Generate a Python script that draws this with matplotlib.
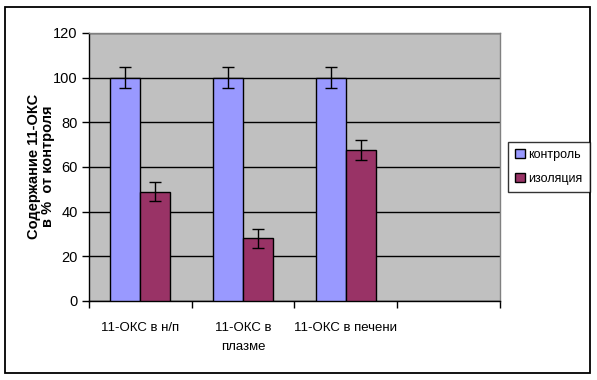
import matplotlib
matplotlib.use("Agg")
import matplotlib.pyplot as plt
import numpy as np
from matplotlib.patches import Rectangle

plt.rcParams['font.family'] = ['Liberation Sans', 'DejaVu Sans']

categories = ['11-ОКС в н/п', '11-ОКС в\nплазме', '11-ОКС в печени', '']
control = [100, 100, 100]
control_err = [4.7, 4.7, 4.7]
isolation = [49, 28, 67.5]
isolation_err = [4.3, 4.3, 4.5]
series_names = ['контроль', 'изоляция']
yticks = [0, 20, 40, 60, 80, 100, 120]

fig = plt.figure(figsize=(5.97, 3.8), dpi=100)
fig.patches.append(Rectangle((5/597, 1-373/380), 585/597, 366/380, transform=fig.transFigure,
                             fill=False, edgecolor='black', linewidth=1.3, zorder=0))
ax = fig.add_axes([88.7/597, 1-301/380, (500-88.7)/597, (301-33)/380])
ax.set_facecolor('#C0C0C0')

x = np.arange(len(control)) + 0.5
w = 0.29
ax.bar(x - w/2, control, w, color='#9999FF', edgecolor='black', linewidth=1, zorder=3,
       label=series_names[0])
ax.bar(x + w/2, isolation, w, color='#993366', edgecolor='black', linewidth=1, zorder=3,
       label=series_names[1])
ax.errorbar(x - w/2, control, yerr=control_err, fmt='none', ecolor='black', elinewidth=1,
            capsize=4, capthick=1, zorder=4)
ax.errorbar(x + w/2, isolation, yerr=isolation_err, fmt='none', ecolor='black', elinewidth=1,
            capsize=4, capthick=1, zorder=4)

ax.set_xlim(0, 4)
ax.set_ylim(0, 120)
ax.set_yticks(yticks)
ax.set_yticklabels([str(v) for v in yticks], fontsize=10.5)
ax.yaxis.grid(True, color='black', linewidth=1, zorder=1)
ax.set_axisbelow(True)

ax.set_xticks([0, 1, 2, 3, 4])
ax.set_xticklabels([])
ax.set_xticks(np.arange(4) + 0.5, minor=True)
ax.set_xticklabels(categories, minor=True, fontsize=9.5, linespacing=1.75)
ax.tick_params(axis='x', which='minor', length=0, pad=15)
ax.tick_params(axis='x', which='major', length=5, width=1, direction='out')
ax.tick_params(axis='y', length=5, width=1, direction='out', pad=3)

for s in ['top', 'right']:
    ax.spines[s].set_color('#808080')
    ax.spines[s].set_linewidth(1)
for s in ['left', 'bottom']:
    ax.spines[s].set_color('black')
    ax.spines[s].set_linewidth(1)

fig.text(41/597, 1-166/380, 'Содержание 11-ОКС\nв %  от контроля', rotation=90, ha='center',
         va='center', multialignment='center', fontsize=10.5, fontweight='bold', linespacing=1.0)

leg = fig.legend(loc='center', bbox_to_anchor=(549/597, 1-167/380), frameon=True, fancybox=False,
                 edgecolor='black', fontsize=9, handlelength=0.75, handleheight=0.75,
                 handletextpad=0.3, labelspacing=1.0, borderpad=0.55, borderaxespad=0)
leg.get_frame().set_linewidth(1)

fig.savefig('out.png', dpi=100)
